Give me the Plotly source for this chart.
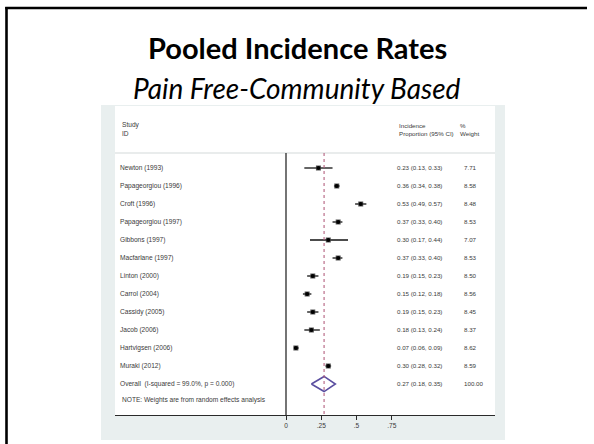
import plotly.graph_objects as go

# ---------------- data ----------------
studies = ["Newton (1993)", "Papageorgiou (1996)", "Croft (1996)", "Papageorgiou (1997)",
           "Gibbons (1997)", "Macfarlane (1997)", "Linton (2000)", "Carrol (2004)",
           "Cassidy (2005)", "Jacob (2006)", "Hartvigsen (2006)", "Muraki (2012)"]
est = [0.23, 0.36, 0.53, 0.37, 0.30, 0.37, 0.19, 0.15, 0.19, 0.18, 0.07, 0.30]
lo = [0.13, 0.34, 0.49, 0.33, 0.17, 0.33, 0.15, 0.12, 0.15, 0.13, 0.06, 0.28]
hi = [0.33, 0.38, 0.57, 0.40, 0.44, 0.40, 0.23, 0.18, 0.23, 0.24, 0.09, 0.32]
weights = ["7.71", "8.58", "8.48", "8.53", "7.07", "8.53", "8.50", "8.56", "8.45", "8.37", "8.62", "8.59"]
overall_label = "Overall  (I-squared = 99.0%, p = 0.000)"
overall_est, overall_lo, overall_hi = 0.27, 0.18, 0.35
overall_weight = "100.00"
tick_vals = [0, 0.25, 0.5, 0.75]
tick_text = ["0", ".25", ".5", ".75"]

# ---------------- layout helpers ----------------
W, H = 594, 444
L, R, T, B = 115, 495, 105, 415           # plot area in pixels
px_per_unit = 141.0
x0_px = 286
xr = [(L - x0_px) / px_per_unit, (R - x0_px) / px_per_unit]
row0_px, row_h = 168, 18
yr = [(B - row0_px) / row_h, (T - row0_px) / row_h]


def px_to_x(p):
    return (p - x0_px) / px_per_unit


def py_to_row(p):
    return (p - row0_px) / row_h


def ppx(p):
    return (p - L) / (R - L)


def ppy(p):
    return (B - p) / (B - T)


n = len(studies)
rows = list(range(n))
overall_row = n
small = dict(family="Liberation Sans, Arial, sans-serif", size=6.6, color="#3a3a3a")
num_font = dict(family="Liberation Sans, Arial, sans-serif", size=6.2, color="#3a3a3a")

fig = go.Figure()

# weight boxes (grey squares) and point estimates with CI
fig.add_trace(go.Scatter(
    x=est, y=rows, mode="markers",
    marker=dict(symbol="square", size=5, color="#555555"),
    error_x=dict(type="data", symmetric=False,
                 array=[h - e for h, e in zip(hi, est)],
                 arrayminus=[e - l for e, l in zip(est, lo)],
                 color="#111111", thickness=1.3, width=0),
    hoverinfo="skip", showlegend=False))
fig.add_trace(go.Scatter(
    x=est, y=rows, mode="markers",
    marker=dict(symbol="circle", size=4.2, color="#000000"),
    hoverinfo="skip", showlegend=False))

# overall diamond
dh = 0.42
fig.add_trace(go.Scatter(
    x=[overall_lo, overall_est, overall_hi, overall_est, overall_lo],
    y=[overall_row, overall_row - dh, overall_row, overall_row + dh, overall_row],
    mode="lines", line=dict(color="#5b4fa0", width=1.6),
    hoverinfo="skip", showlegend=False))

# text columns
fig.add_trace(go.Scatter(
    x=[px_to_x(120)] * (n + 1), y=rows + [overall_row], mode="text",
    text=studies + [overall_label], textposition="middle right",
    textfont=small, hoverinfo="skip", showlegend=False, cliponaxis=False))
ci_text = [f"{e:.2f} ({l:.2f}, {h:.2f})" for e, l, h in zip(est, lo, hi)]
ci_text.append(f"{overall_est:.2f} ({overall_lo:.2f}, {overall_hi:.2f})")
fig.add_trace(go.Scatter(
    x=[px_to_x(397)] * (n + 1), y=rows + [overall_row], mode="text",
    text=ci_text, textposition="middle right",
    textfont=num_font, hoverinfo="skip", showlegend=False, cliponaxis=False))
fig.add_trace(go.Scatter(
    x=[px_to_x(464)] * (n + 1), y=rows + [overall_row], mode="text",
    text=weights + [overall_weight], textposition="middle right",
    textfont=num_font, hoverinfo="skip", showlegend=False, cliponaxis=False))

shapes = []
# outer slide border (left and top edges only are visible)
shapes.append(dict(type="line", xref="paper", yref="paper",
                   x0=ppx(6.5), x1=ppx(6.5), y0=ppy(446), y1=ppy(7),
                   line=dict(color="#000000", width=2.6), layer="below"))
shapes.append(dict(type="line", xref="paper", yref="paper",
                   x0=ppx(5.2), x1=ppx(587), y0=ppy(8), y1=ppy(8),
                   line=dict(color="#000000", width=2.6), layer="below"))
# picture panel background (light) and white plotting area
shapes.append(dict(type="rect", xref="paper", yref="paper",
                   x0=ppx(101), x1=ppx(505), y0=ppy(440), y1=ppy(105),
                   fillcolor="#e9efef", line=dict(width=0), layer="below"))
shapes.append(dict(type="rect", xref="paper", yref="paper",
                   x0=ppx(115), x1=ppx(495), y0=ppy(415), y1=ppy(106),
                   fillcolor="#ffffff", line=dict(width=0), layer="below"))
# header separator
shapes.append(dict(type="line", xref="paper", yref="y",
                   x0=0, x1=1, y0=py_to_row(153), y1=py_to_row(153),
                   line=dict(color="#e2e6e6", width=1.5), layer="below"))
# null line at 0
shapes.append(dict(type="line", xref="x", yref="y",
                   x0=0, x1=0, y0=py_to_row(153), y1=yr[0],
                   line=dict(color="#2a2a2a", width=1.3)))
# pooled estimate line
shapes.append(dict(type="line", xref="x", yref="y",
                   x0=overall_est, x1=overall_est, y0=py_to_row(153), y1=yr[0],
                   line=dict(color="#b4607e", width=1.1, dash="dot")))

annotations = [
    dict(text="<b>Pooled Incidence Rates</b>", xref="paper", yref="paper",
         x=ppx(297), y=ppy(47), showarrow=False, xanchor="center", yanchor="middle",
         font=dict(family="Lato, Open Sans, sans-serif", size=29, color="#000000")),
    dict(text="<i>Pain Free-Community Based</i>", xref="paper", yref="paper",
         x=ppx(297), y=ppy(88), showarrow=False, xanchor="center", yanchor="middle",
         font=dict(family="Lato, Open Sans, sans-serif", size=28, color="#000000")),
    dict(text="Study<br>ID", xref="x", yref="y", x=px_to_x(120), y=py_to_row(129),
         showarrow=False, xanchor="left", yanchor="middle", align="left", font=small),
    dict(text="Incidence<br>Proportion (95% CI)", xref="x", yref="y", x=px_to_x(397),
         y=py_to_row(129), showarrow=False, xanchor="left", yanchor="middle",
         align="left", font=num_font),
    dict(text="%<br>Weight", xref="x", yref="y", x=px_to_x(458), y=py_to_row(129),
         showarrow=False, xanchor="left", yanchor="middle", align="left", font=num_font),
    dict(text="NOTE: Weights are from random effects analysis", xref="x", yref="y",
         x=px_to_x(120), y=py_to_row(400), showarrow=False, xanchor="left",
         yanchor="middle", font=small),
]

fig.update_layout(
    width=W, height=H,
    margin=dict(l=L, r=W - R, t=T, b=H - B, pad=0),
    paper_bgcolor="#ffffff", plot_bgcolor="rgba(0,0,0,0)",
    shapes=shapes, annotations=annotations, showlegend=False,
    xaxis=dict(range=xr, tickvals=tick_vals, ticktext=tick_text, showgrid=False,
               zeroline=False, showline=True, linecolor="#2a2a2a", linewidth=1.3,
               ticks="outside", ticklen=4, tickcolor="#2a2a2a", tickwidth=1,
               tickfont=dict(family="Liberation Sans, Arial, sans-serif", size=6.6,
                             color="#3a3a3a"),
               fixedrange=True),
    yaxis=dict(range=yr, showgrid=False, zeroline=False, showline=False,
               showticklabels=False, ticks="", fixedrange=True),
)

fig.write_html(
    "out.html",
    config={"displayModeBar": False},
    post_script=("document.body.style.margin='0';document.body.style.overflow='hidden';"
                 "document.documentElement.style.overflow='hidden';"),
)
